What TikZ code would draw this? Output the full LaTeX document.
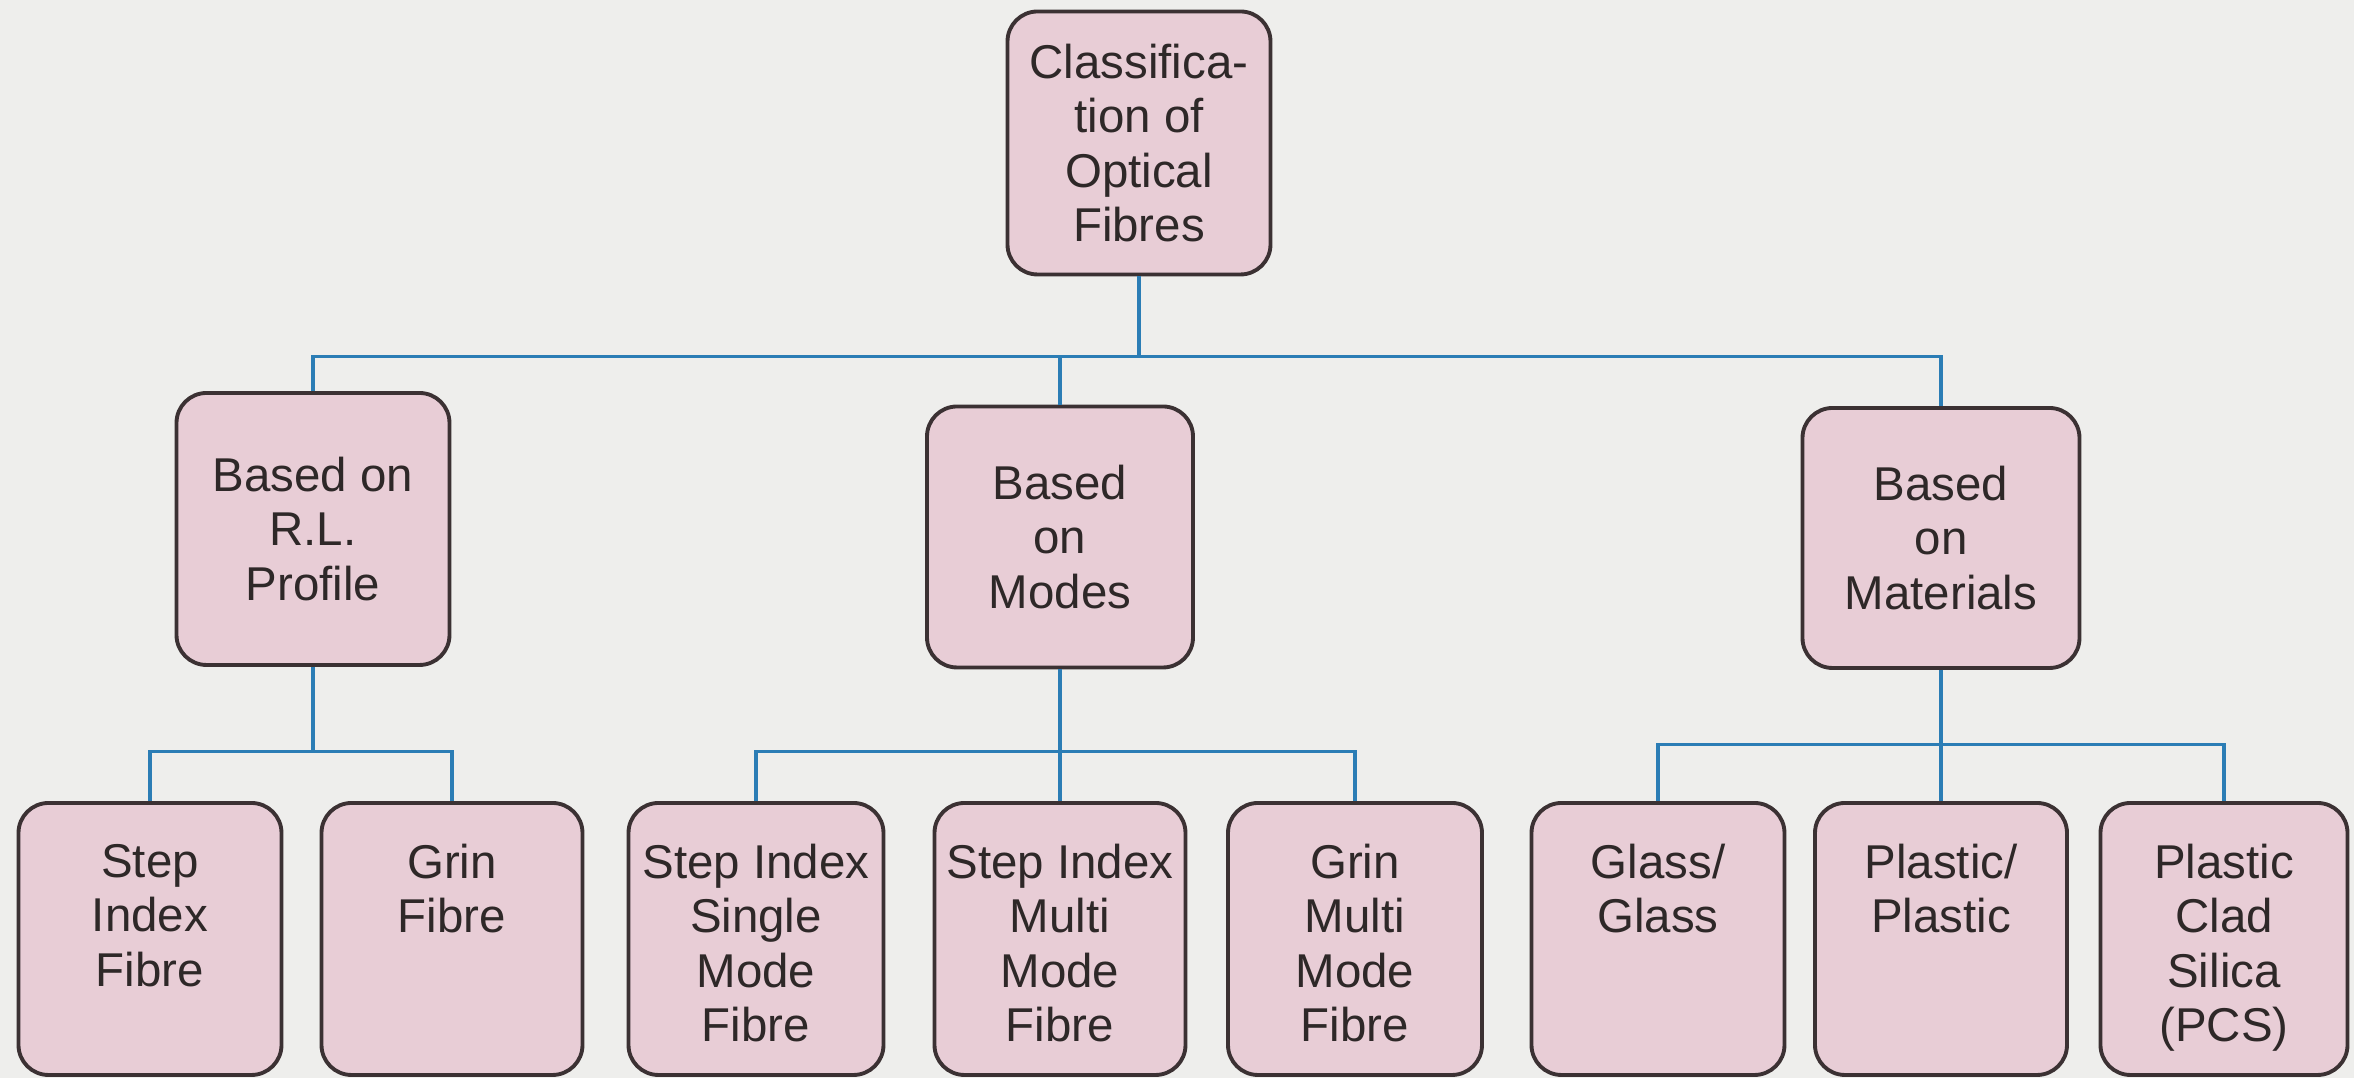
\documentclass[tikz,border=0pt]{standalone}
\usepackage{fontspec}
\setmainfont{Liberation Sans}
\usetikzlibrary{positioning,calc}
\usepackage{xcolor}
\definecolor{boxpink}{HTML}{E8CDD6}
\definecolor{boxedge}{HTML}{3B3133}
\definecolor{boxtext}{HTML}{2E2828}
\definecolor{linkblue}{HTML}{2B7DB5}
\definecolor{paper}{HTML}{EEEEEC}
% leaf boxes keep their text at the top
\newcommand{\leaftext}[1]{\parbox[t][1.9cm][t]{2.4cm}{\centering #1}}

\begin{document}
\begin{tikzpicture}[
  box/.style={draw=boxedge, fill=boxpink, line width=1.1pt, rounded corners=0.3cm,
              align=center, text=boxtext, font=\fontsize{13.5}{15.5}\selectfont, inner sep=2pt},
  leaf/.style={box, minimum height=2.72cm, inner xsep=1pt, inner ysep=0.41cm},
  link/.style={draw=linkblue, line width=0.9pt}
]
\fill[paper] (0,0) rectangle (23.54,10.78);
\useasboundingbox (0,0) rectangle (23.54,10.78);

% root and the three ways of sorting
\node[box, minimum width=2.63cm, minimum height=2.63cm] (root) at (11.39,9.35) {Classifica-\\tion of\\Optical\\Fibres};
\node[box, minimum width=2.73cm, minimum height=2.72cm] (rip)   at (3.13,5.49)  {Based on\\R.L.\\Profile};
\node[box, minimum width=2.66cm, minimum height=2.61cm] (modes) at (10.60,5.41) {Based\\on\\Modes};
\node[box, minimum width=2.77cm, minimum height=2.60cm] (mats)  at (19.41,5.40) {Based\\on\\Materials};

% fibre types
\node[leaf, minimum width=2.63cm] (sif)  at (1.50,1.39)  {\leaftext{Step\\Index\\Fibre}};
\node[leaf, minimum width=2.61cm] (grin) at (4.52,1.39)  {\leaftext{Grin\\Fibre}};
\node[leaf, minimum width=2.55cm] (sism) at (7.56,1.39)  {\leaftext{Step Index\\Single\\Mode\\Fibre}};
\node[leaf, minimum width=2.51cm] (simm) at (10.60,1.39) {\leaftext{Step Index\\Multi\\Mode\\Fibre}};
\node[leaf, minimum width=2.54cm] (gimm) at (13.55,1.39) {\leaftext{Grin\\Multi\\Mode\\Fibre}};
\node[leaf, minimum width=2.53cm] (gg)   at (16.58,1.39) {\leaftext{Glass/\\Glass}};
\node[leaf, minimum width=2.52cm] (pp)   at (19.41,1.39) {\leaftext{Plastic/\\Plastic}};
\node[leaf, minimum width=2.43cm] (pcs)  at (22.24,1.39) {\leaftext{Plastic\\Clad\\Silica\\(PCS)}};

% tree connectors
\foreach \g in {rip,modes,mats}
  \draw[link] (root.south) -- ++(0,-0.8) -| (\g.north);
\foreach \c in {sif,grin}
  \draw[link] (rip.south) -- ++(0,-0.85) -| (\c.north);
\foreach \c in {sism,simm,gimm}
  \draw[link] (modes.south) -- ++(0,-0.82) -| (\c.north);
\foreach \c in {gg,pp,pcs}
  \draw[link] (mats.south) -- ++(0,-0.75) -| (\c.north);
\end{tikzpicture}
\end{document}
